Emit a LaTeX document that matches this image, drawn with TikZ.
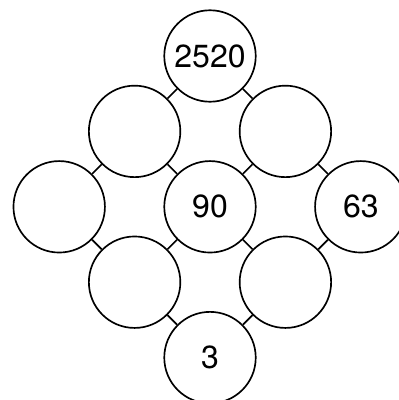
\documentclass[tikz,border=0pt]{standalone}
\usepackage{fontspec}
\setmainfont{TeX Gyre Heros}
\usetikzlibrary{positioning}
\begin{document}
\begin{tikzpicture}[
  num/.style={circle, draw, line width=1.25pt, minimum size=68.6pt, inner sep=0pt, font=\fontsize{24}{28}\selectfont},
  link/.style={line width=1.25pt},
  node distance=56.55pt and 56.55pt,
  on grid
]
\useasboundingbox (0,0) rectangle (299.25pt,-300pt);
\node[num] (top) at (157.5pt,-42pt) {2520};
\node[num, below left=of top] (upleft) {};
\node[num, below right=of top] (upright) {};
\node[num, below left=of upleft] (left) {};
\node[num, below right=of upleft] (mid) {90};
\node[num, below right=of upright] (right) {63};
\node[num, below left=of mid] (lowleft) {};
\node[num, below right=of mid] (lowright) {};
\node[num, below right=of lowleft] (bottom) {3};

\draw[link] (top) -- (upleft);
\draw[link] (top) -- (upright);
\draw[link] (upleft) -- (left);
\draw[link] (upleft) -- (mid);
\draw[link] (upright) -- (mid);
\draw[link] (upright) -- (right);
\draw[link] (left) -- (lowleft);
\draw[link] (mid) -- (lowleft);
\draw[link] (mid) -- (lowright);
\draw[link] (right) -- (lowright);
\draw[link] (lowleft) -- (bottom);
\draw[link] (lowright) -- (bottom);
\end{tikzpicture}
\end{document}
